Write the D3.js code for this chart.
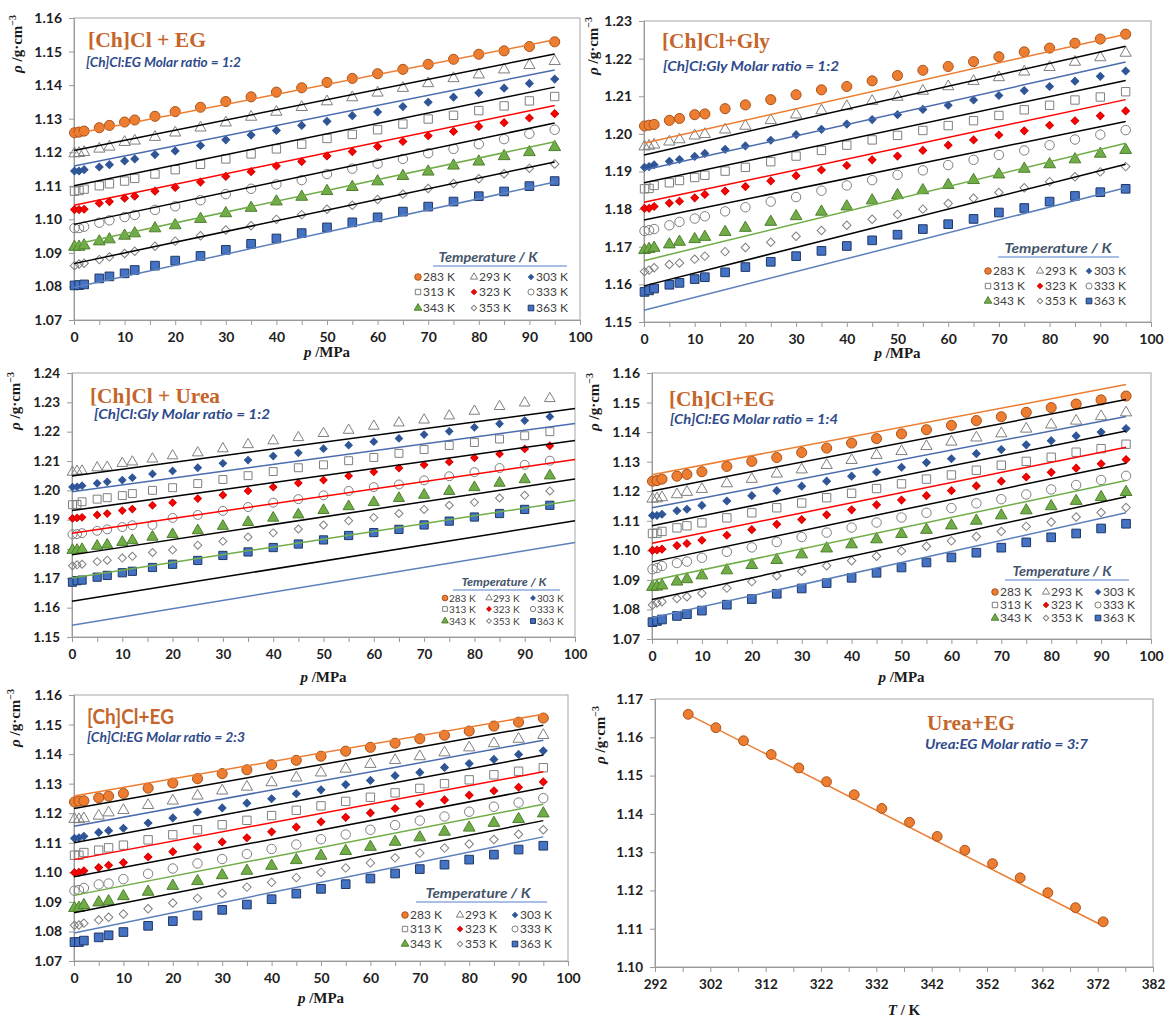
<!DOCTYPE html>
<html>
<head>
<meta charset="utf-8">
<title>Density of deep eutectic solvents vs pressure</title>
<script src="https://d3js.org/d3.v7.min.js"></script>
<style>
  body { margin: 0; background: #fff; }
  .axis .domain { stroke: #9a9a9a; }
  .axis .tick line { stroke: #9a9a9a; }
  .axis .tick text { font-family: Lato, "Open Sans", sans-serif; font-weight: bold; fill: #1e1e1e; }
  .frame { fill: none; stroke: #a6a6a6; stroke-width: 1px; }
  .ptitle { font-family: "Liberation Serif", "Times New Roman", serif; font-weight: bold; fill: #c5652a; }
  .psub { font-family: Lato, "Open Sans", sans-serif; font-weight: bold; font-style: italic; fill: #2f4b8b; }
  .atitle { font-family: "Liberation Serif", "Times New Roman", serif; font-weight: bold; fill: #1a1a1a; }
  .leghead { font-family: Lato, "Open Sans", sans-serif; font-weight: bold; font-style: italic; fill: #44546a; }
  .legtext { font-family: Lato, "Open Sans", sans-serif; fill: #404040; }
</style>
</head>
<body>
<svg width="1165" height="1021"></svg>
<script>
// ---- data ----
const pressuresA = [0.1,1,2,5,7,10,12,16,20,25,30,35,40,45,50,55,60,65,70,75,80,85,90,95];
const pressuresB = [0.1,1,2,5,7,10,15,20,25,30,35,40,45,50,55,60,65,70,75,80,85,90,95];
const tempLabels = ["283 K","293 K","303 K","313 K","323 K","333 K","343 K","353 K","363 K"];

const pressureTicks = [0,5,10,15,20,25,30,35,40,45,50,55,60,65,70,75,80,85,90,95,100];
const pressureLabels = [0,10,20,30,40,50,60,70,80,90,100];
const rhoTicksEG = [1.07,1.08,1.09,1.10,1.11,1.12,1.13,1.14,1.15,1.16];
const rhoTicksGly = [1.15,1.16,1.17,1.18,1.19,1.20,1.21,1.22,1.23];
const rhoTicksUrea = [1.15,1.16,1.17,1.18,1.19,1.20,1.21,1.22,1.23,1.24];
const rhoTicksUreaEG = [1.10,1.11,1.12,1.13,1.14,1.15,1.16,1.17];
const tempTicks = [292,297,302,307,312,317,322,327,332,337,342,347,352,357,362,367,372,377,382];
const tempTickLabels = [292,302,312,322,332,342,352,362,372,382];

// [Ch]Cl + EG 1:2 (one row per temperature, pressuresA)
const rhoEG12 = [
  [1.1258,1.1260,1.1263,1.1273,1.1280,1.1290,1.1296,1.1307,1.1321,1.1334,1.1351,1.1365,1.1379,1.1392,1.1408,1.1420,1.1434,1.1447,1.1462,1.1477,1.1492,1.1502,1.1515,1.1529],
  [1.1196,1.1197,1.1200,1.1210,1.1216,1.1230,1.1234,1.1245,1.1258,1.1273,1.1288,1.1305,1.1320,1.1334,1.1351,1.1363,1.1377,1.1391,1.1405,1.1420,1.1431,1.1446,1.1459,1.1471],
  [1.1144,1.1144,1.1148,1.1156,1.1163,1.1174,1.1180,1.1193,1.1204,1.1220,1.1237,1.1251,1.1265,1.1280,1.1292,1.1309,1.1320,1.1336,1.1349,1.1364,1.1377,1.1391,1.1405,1.1418],
  [1.1084,1.1086,1.1090,1.1100,1.1106,1.1114,1.1122,1.1135,1.1148,1.1164,1.1180,1.1195,1.1210,1.1224,1.1241,1.1253,1.1267,1.1284,1.1299,1.1310,1.1324,1.1338,1.1353,1.1366],
  [1.1029,1.1029,1.1030,1.1048,1.1053,1.1063,1.1069,1.1084,1.1095,1.1111,1.1128,1.1142,1.1159,1.1172,1.1189,1.1202,1.1217,1.1232,1.1249,1.1262,1.1277,1.1288,1.1302,1.1315],
  [1.0974,1.0974,1.0978,1.0990,1.0997,1.1007,1.1013,1.1028,1.1039,1.1057,1.1075,1.1091,1.1104,1.1117,1.1135,1.1151,1.1166,1.1180,1.1197,1.1210,1.1224,1.1239,1.1255,1.1267],
  [1.0918,1.0918,1.0922,1.0934,1.0940,1.0951,1.0958,1.0973,1.0982,1.1001,1.1018,1.1034,1.1053,1.1067,1.1084,1.1096,1.1113,1.1129,1.1142,1.1160,1.1172,1.1188,1.1200,1.1215],
  [1.0862,1.0867,1.0869,1.0880,1.0888,1.0898,1.0905,1.0920,1.0935,1.0951,1.0968,1.0981,1.1000,1.1014,1.1030,1.1042,1.1059,1.1075,1.1092,1.1107,1.1121,1.1136,1.1152,1.1165],
  [1.0803,1.0804,1.0806,1.0824,1.0830,1.0839,1.0849,1.0862,1.0877,1.0891,1.0909,1.0927,1.0943,1.0959,1.0976,1.0991,1.1006,1.1023,1.1038,1.1053,1.1069,1.1083,1.1099,1.1114]
];
// fitted line ends [rho at p=0, rho at last p]
const fitEG12 = [[1.1254,1.1535],[1.1205,1.1493],[1.1159,1.1445],[1.1100,1.1394],[1.1042,1.1339],[1.0985,1.1287],[1.0925,1.1231],[1.0868,1.1171],[1.0797,1.1111]];

// [Ch]Cl + Gly 1:2 (pressuresA)
const rhoGly12 = [
  [1.2021,1.2023,1.2025,1.2036,1.2041,1.2051,1.2053,1.2067,1.2077,1.2091,1.2104,1.2117,1.2126,1.2141,1.2155,1.2169,1.2179,1.2192,1.2205,1.2218,1.2228,1.2241,1.2252,1.2265],
  [1.1966,1.1968,1.1971,1.1979,1.1985,1.1995,1.1999,1.2011,1.2021,1.2036,1.2051,1.2062,1.2073,1.2087,1.2098,1.2114,1.2126,1.2140,1.2150,1.2165,1.2177,1.2191,1.2203,1.2215],
  [1.1911,1.1913,1.1918,1.1927,1.1932,1.1940,1.1948,1.1959,1.1968,1.1983,1.1998,1.2012,1.2026,1.2038,1.2051,1.2065,1.2076,1.2090,1.2102,1.2115,1.2126,1.2140,1.2153,1.2167],
  [1.1854,1.1855,1.1863,1.1870,1.1876,1.1884,1.1890,1.1901,1.1911,1.1926,1.1941,1.1956,1.1970,1.1984,1.1996,1.2009,1.2022,1.2035,1.2049,1.2064,1.2076,1.2090,1.2098,1.2112],
  [1.1802,1.1802,1.1807,1.1816,1.1821,1.1830,1.1839,1.1848,1.1860,1.1875,1.1889,1.1904,1.1916,1.1931,1.1941,1.1956,1.1970,1.1984,1.1997,1.2008,1.2023,1.2035,1.2048,1.2061],
  [1.1742,1.1744,1.1747,1.1757,1.1766,1.1775,1.1781,1.1794,1.1805,1.1820,1.1832,1.1849,1.1863,1.1877,1.1891,1.1903,1.1917,1.1931,1.1944,1.1956,1.1970,1.1985,1.1998,1.2010],
  [1.1691,1.1694,1.1697,1.1706,1.1713,1.1720,1.1726,1.1739,1.1750,1.1766,1.1781,1.1793,1.1807,1.1823,1.1837,1.1850,1.1864,1.1877,1.1892,1.1907,1.1919,1.1932,1.1947,1.1957],
  [1.1634,1.1638,1.1644,1.1653,1.1657,1.1667,1.1675,1.1687,1.1698,1.1712,1.1728,1.1743,1.1757,1.1773,1.1786,1.1800,1.1815,1.1829,1.1844,1.1857,1.1873,1.1886,1.1899,1.1913],
  [1.1580,1.1584,1.1589,1.1599,1.1604,1.1614,1.1619,1.1632,1.1646,1.1660,1.1675,1.1689,1.1702,1.1717,1.1732,1.1747,1.1760,1.1774,1.1791,1.1803,1.1820,1.1835,1.1845,1.1854]
];
const fitGly12 = [[1.1975,1.2265],[1.1944,1.2233],[1.1904,1.2191],[1.1870,1.2142],[1.1818,1.2091],[1.1771,1.2033],[1.1663,1.1975],[1.1596,1.1919],[1.1531,1.1857]];

// [Ch]Cl + Urea (pressuresA, no 283 K data)
const rhoUrea = [
  null,
  [1.2062,1.2065,1.2066,1.2077,1.2079,1.2092,1.2097,1.2107,1.2118,1.2128,1.2142,1.2156,1.2169,1.2180,1.2194,1.2205,1.2219,1.2230,1.2240,1.2254,1.2270,1.2286,1.2298,1.2313],
  [1.2011,1.2012,1.2016,1.2024,1.2029,1.2035,1.2043,1.2056,1.2066,1.2077,1.2092,1.2103,1.2117,1.2128,1.2142,1.2154,1.2166,1.2177,1.2190,1.2201,1.2215,1.2227,1.2238,1.2251],
  [1.1951,1.1952,1.1961,1.1970,1.1975,1.1982,1.1989,1.2000,1.2009,1.2023,1.2037,1.2050,1.2064,1.2077,1.2087,1.2101,1.2112,1.2126,1.2139,1.2153,1.2163,1.2175,1.2186,1.2200],
  [1.1904,1.1906,1.1908,1.1916,1.1921,1.1931,1.1936,1.1949,1.1958,1.1972,1.1984,1.1998,1.2011,1.2025,1.2035,1.2049,1.2063,1.2076,1.2087,1.2097,1.2111,1.2124,1.2141,1.2152],
  [1.1850,1.1851,1.1854,1.1862,1.1867,1.1875,1.1881,1.1882,1.1906,1.1916,1.1930,1.1943,1.1958,1.1970,1.1983,1.1998,1.2011,1.2020,1.2034,1.2048,1.2062,1.2076,1.2087,1.2101],
  [1.1796,1.1796,1.1799,1.1810,1.1814,1.1823,1.1829,1.1841,1.1850,1.1863,1.1878,1.1891,1.1906,1.1917,1.1932,1.1945,1.1959,1.1973,1.1984,1.1997,1.2010,1.2025,1.2037,1.2050],
  [1.1743,1.1746,1.1748,1.1757,1.1762,1.1769,1.1775,1.1788,1.1797,1.1813,1.1826,1.1841,1.1855,1.1868,1.1882,1.1896,1.1907,1.1921,1.1935,1.1949,1.1959,1.1974,1.1983,1.1998],
  [1.1687,1.1692,1.1694,1.1704,1.1710,1.1719,1.1724,1.1737,1.1748,1.1761,1.1778,1.1790,1.1805,1.1817,1.1831,1.1846,1.1856,1.1867,1.1882,1.1895,1.1909,1.1921,1.1935,1.1949]
];
const fitUrea = [null,[1.2049,1.2279],[1.1995,1.2228],[1.1931,1.2170],[1.1854,1.2105],[1.1780,1.2039],[1.1701,1.1966],[1.1622,1.1896],[1.1540,1.1822]];

// [Ch]Cl + EG 1:4 (pressuresB)
const rhoEG14 = [
  [1.1234,1.1236,1.1241,1.1251,1.1257,1.1266,1.1284,1.1301,1.1314,1.1331,1.1346,1.1363,1.1378,1.1394,1.1408,1.1423,1.1439,1.1452,1.1467,1.1483,1.1495,1.1509,1.1522],
  [1.1174,1.1175,1.1179,1.1189,1.1197,1.1207,1.1226,1.1241,1.1259,1.1273,1.1288,1.1305,1.1322,1.1335,1.1352,1.1367,1.1381,1.1395,1.1411,1.1425,1.1438,1.1453,1.1466],
  [1.1118,1.1118,1.1122,1.1134,1.1139,1.1152,1.1167,1.1185,1.1202,1.1217,1.1234,1.1251,1.1265,1.1281,1.1297,1.1310,1.1327,1.1341,1.1357,1.1371,1.1387,1.1400,1.1412],
  [1.1057,1.1058,1.1064,1.1076,1.1083,1.1093,1.1110,1.1127,1.1144,1.1160,1.1178,1.1193,1.1209,1.1225,1.1241,1.1255,1.1271,1.1288,1.1301,1.1315,1.1332,1.1344,1.1359],
  [1.1000,1.1001,1.1004,1.1016,1.1023,1.1034,1.1051,1.1070,1.1088,1.1104,1.1120,1.1137,1.1154,1.1170,1.1185,1.1202,1.1218,1.1234,1.1248,1.1264,1.1278,1.1293,1.1307],
  [1.0936,1.0940,1.0947,1.0957,1.0962,1.0975,1.0995,1.1010,1.1028,1.1045,1.1060,1.1077,1.1094,1.1111,1.1127,1.1143,1.1159,1.1173,1.1189,1.1206,1.1221,1.1238,1.1252],
  [1.0876,1.0877,1.0881,1.0894,1.0902,1.0915,1.0932,1.0950,1.0967,1.0986,1.1006,1.1020,1.1037,1.1055,1.1069,1.1084,1.1100,1.1118,1.1135,1.1149,1.1167,1.1180,1.1197],
  [1.0815,1.0822,1.0826,1.0837,1.0843,1.0855,1.0872,1.0894,1.0914,1.0929,1.0948,1.0965,1.0980,1.0998,1.1014,1.1032,1.1047,1.1064,1.1081,1.1096,1.1113,1.1128,1.1145],
  [1.0757,1.0761,1.0766,1.0778,1.0784,1.0796,1.0816,1.0835,1.0853,1.0871,1.0889,1.0907,1.0924,1.0942,1.0959,1.0976,1.0992,1.1009,1.1027,1.1044,1.1057,1.1074,1.1090]
];
const fitEG14 = [[1.1256,1.1561],[1.1201,1.1510],[1.1144,1.1453],[1.1083,1.1404],[1.1024,1.1349],[1.0961,1.1295],[1.0898,1.1236],[1.0834,1.1181],[1.0772,1.1127]];

// [Ch]Cl + EG 2:3 (pressuresB)
const rhoEG23 = [
  [1.1238,1.1241,1.1242,1.1252,1.1258,1.1267,1.1285,1.1302,1.1317,1.1334,1.1347,1.1364,1.1379,1.1393,1.1410,1.1423,1.1437,1.1452,1.1464,1.1478,1.1495,1.1508,1.1522],
  [1.1180,1.1179,1.1182,1.1191,1.1202,1.1210,1.1227,1.1242,1.1259,1.1276,1.1289,1.1304,1.1320,1.1337,1.1350,1.1366,1.1379,1.1392,1.1405,1.1422,1.1436,1.1451,1.1464],
  [1.1115,1.1117,1.1122,1.1135,1.1141,1.1149,1.1167,1.1184,1.1204,1.1218,1.1234,1.1249,1.1266,1.1279,1.1297,1.1311,1.1327,1.1338,1.1355,1.1368,1.1382,1.1399,1.1411],
  [1.1058,1.1058,1.1067,1.1075,1.1083,1.1092,1.1110,1.1127,1.1144,1.1161,1.1176,1.1192,1.1210,1.1225,1.1240,1.1254,1.1269,1.1284,1.1300,1.1313,1.1330,1.1342,1.1354],
  [1.0999,1.1000,1.1005,1.1016,1.1024,1.1033,1.1052,1.1070,1.1086,1.1103,1.1117,1.1137,1.1153,1.1171,1.1186,1.1201,1.1216,1.1232,1.1245,1.1261,1.1276,1.1288,1.1306],
  [1.0938,1.0940,1.0947,1.0959,1.0962,1.0977,1.0995,1.1013,1.1030,1.1045,1.1062,1.1079,1.1094,1.1112,1.1128,1.1144,1.1160,1.1175,1.1189,1.1205,1.1222,1.1236,1.1251],
  [1.0879,1.0880,1.0889,1.0898,1.0902,1.0919,1.0934,1.0954,1.0970,1.0990,1.1005,1.1022,1.1041,1.1056,1.1072,1.1086,1.1103,1.1118,1.1137,1.1151,1.1167,1.1180,1.1199],
  [1.0821,1.0822,1.0828,1.0839,1.0848,1.0859,1.0877,1.0896,1.0912,1.0929,1.0950,1.0966,1.0982,1.1000,1.1015,1.1032,1.1049,1.1065,1.1082,1.1096,1.1111,1.1129,1.1144],
  [1.0764,1.0764,1.0769,1.0780,1.0787,1.0798,1.0819,1.0835,1.0854,1.0873,1.0891,1.0909,1.0928,1.0944,1.0960,1.0979,1.0996,1.1011,1.1026,1.1043,1.1060,1.1077,1.1090]
];
const fitEG23 = [[1.1258,1.1535],[1.1216,1.1498],[1.1156,1.1447],[1.1100,1.1397],[1.1043,1.1340],[1.0985,1.1286],[1.0922,1.1230],[1.0863,1.1175],[1.0795,1.1120]];

// Urea + EG 3:7, density vs temperature
const tempsUreaEG = [298,303,308,313,318,323,328,333,338,343,348,353,358,363,368,373];
const rhoUreaEG = [1.1660,1.1625,1.1591,1.1555,1.1520,1.1484,1.1450,1.1414,1.1378,1.1341,1.1305,1.1270,1.1233,1.1194,1.1155,1.1118];
const fitUreaEG = [1.1660,1.1107];

// ---- styles ----
const markerStyles = [
  {type: d3.symbolCircle,   size: 80, fill: "#ed7d31", stroke: "#a9531a", rot: 0},
  {type: d3.symbolTriangle, size: 55, fill: "none",    stroke: "#7f7f7f", rot: 0},
  {type: d3.symbolSquare,   size: 30, fill: "#2f5597", stroke: "#2f5597", rot: 45},
  {type: d3.symbolSquare,   size: 70, fill: "none",    stroke: "#7f7f7f", rot: 0},
  {type: d3.symbolSquare,   size: 30, fill: "#ff0000", stroke: "#d00000", rot: 45},
  {type: d3.symbolCircle,   size: 70, fill: "none",    stroke: "#7f7f7f", rot: 0},
  {type: d3.symbolTriangle, size: 60, fill: "#70ad47", stroke: "#4f7f30", rot: 0},
  {type: d3.symbolSquare,   size: 36, fill: "none",    stroke: "#7f7f7f", rot: 45},
  {type: d3.symbolSquare,   size: 75, fill: "#4472c4", stroke: "#203864", rot: 0}
];
const fitColors = ["#ed7d31","#000000","#4a6cae","#000000","#ff0000","#000000","#70ad47","#000000","#5b80bb"];

const svg = d3.select("svg");

function drawMarker(sel, i, x, y, scale) {
  const st = markerStyles[i];
  sel.append("path")
    .attr("d", d3.symbol(st.type, st.size * scale)())
    .attr("transform", `translate(${x},${y}) rotate(${st.rot})`)
    .attr("fill", st.fill)
    .attr("stroke", st.stroke)
    .attr("stroke-width", 1);
}

// text squeezed/stretched to the width measured on the figure
function fitText(g, cls, x, y, size, width, str, family) {
  return g.append("text").attr("class", cls)
    .attr("x", x).attr("y", y)
    .style("font-size", size + "px")
    .style("font-family", family || null)
    .attr("textLength", width).attr("lengthAdjust", "spacingAndGlyphs")
    .text(str);
}

function yTitle(g, x, y) {
  const t = g.append("text").attr("class", "atitle")
    .attr("transform", `translate(${x},${y}) rotate(-90)`)
    .attr("text-anchor", "middle").style("font-size", "15px");
  t.append("tspan").style("font-style", "italic").text("ρ");
  t.append("tspan").text(" /g·cm");
  t.append("tspan").attr("dy", -6).style("font-size", "10px").text("−3");
}

function xTitle(g, x, y, sym, unit) {
  const t = g.append("text").attr("class", "atitle")
    .attr("x", x).attr("y", y).attr("text-anchor", "middle").style("font-size", "15px");
  t.append("tspan").style("font-style", "italic").text(sym);
  t.append("tspan").text(unit);
}

function legend(g, L) {
  fitText(g, "leghead", L.cx - L.hw / 2, L.hy, L.hfs, L.hw, "Temperature / K");
  g.append("line").attr("x1", L.ux[0]).attr("x2", L.ux[1])
    .attr("y1", L.hy + 4).attr("y2", L.hy + 4)
    .attr("stroke", "#8eaadb").attr("stroke-width", 1.5);
  tempLabels.forEach((t, i) => {
    const mx = L.cols[i % 3], my = L.rows[Math.floor(i / 3)];
    drawMarker(g, i, mx, my, L.ms);
    g.append("text").attr("class", "legtext")
      .attr("x", mx + L.gap).attr("y", my).attr("dy", "0.36em")
      .style("font-size", L.fs + "px").text(t);
  });
}

function pressurePanel(c) {
  const g = svg.append("g");
  const x = d3.scaleLinear().domain([0, 100]).range([c.left, c.right]);
  const y = d3.scaleLinear().domain([c.yTicks[0], c.yTicks[c.yTicks.length - 1]]).range([c.bottom, c.top]);

  g.append("rect").attr("class", "frame")
    .attr("x", c.left).attr("y", c.top)
    .attr("width", c.right - c.left).attr("height", c.bottom - c.top);

  g.append("g").attr("class", "axis")
    .attr("transform", `translate(0,${c.bottom})`)
    .call(d3.axisBottom(x).tickValues(pressureTicks).tickSize(5).tickPadding(7)
      .tickFormat(d => pressureLabels.includes(d) ? d : ""))
    .selectAll("text").style("font-size", c.tfs + "px");
  g.append("g").attr("class", "axis")
    .attr("transform", `translate(${c.left},0)`)
    .call(d3.axisLeft(y).tickValues(c.yTicks).tickSize(5).tickPadding(7).tickFormat(d3.format(".2f")))
    .selectAll("text").style("font-size", c.tfs + "px");

  // measured points
  c.rho.forEach((vals, i) => {
    if (!vals) return;
    vals.forEach((v, j) => drawMarker(g, i, x(c.press[j]), y(v), c.ms));
  });
  // fitted lines
  c.fit.forEach((f, i) => {
    if (!f) return;
    g.append("line")
      .attr("x1", x(0)).attr("y1", y(f[0]))
      .attr("x2", x(c.pEnd)).attr("y2", y(f[1]))
      .attr("stroke", fitColors[i]).attr("stroke-width", 1.5);
  });

  fitText(g, "ptitle", c.title[1], c.title[2], c.title[3], c.title[4], c.title[0], c.title[5]);
  fitText(g, "psub", c.sub[1], c.sub[2], c.sub[3], c.sub[4], c.sub[0]);

  yTitle(g, c.yt[0], c.yt[1]);
  xTitle(g, (c.left + c.right) / 2, c.xt, "p", " /MPa");
  legend(g, c.legend);
}

pressurePanel({
  left: 74, right: 580, top: 18, bottom: 320, yTicks: rhoTicksEG, tfs: 14, ms: 1,
  press: pressuresA, rho: rhoEG12, fit: fitEG12, pEnd: 95,
  title: ["[Ch]Cl + EG", 88, 47, 22, 118], sub: ["[Ch]Cl:EG Molar ratio = 1:2", 86, 67, 13, 155],
  yt: [22, 44], xt: 357,
  legend: {cx: 488, hy: 262, hfs: 13, hw: 99, ux: [433, 567], rows: [277, 292, 308], cols: [418, 474, 531], gap: 5, fs: 12, ms: 0.42}
});
pressurePanel({
  left: 644, right: 1151, top: 21, bottom: 322, yTicks: rhoTicksGly, tfs: 14, ms: 1,
  press: pressuresA, rho: rhoGly12, fit: fitGly12, pEnd: 95,
  title: ["[Ch]Cl+Gly", 662, 48, 22, 108], sub: ["[Ch]Cl:Gly Molar ratio = 1:2", 663, 71, 13.5, 176],
  yt: [598, 46], xt: 358,
  legend: {cx: 1058, hy: 253, hfs: 13, hw: 107, ux: [998, 1119], rows: [271, 286, 301], cols: [988, 1040, 1089], gap: 5, fs: 12, ms: 0.42}
});
pressurePanel({
  left: 72, right: 575, top: 373, bottom: 637, yTicks: rhoTicksUrea, tfs: 13.5, ms: 0.9,
  press: pressuresA, rho: rhoUrea, fit: fitUrea, pEnd: 100,
  title: ["[Ch]Cl + Urea", 90, 403, 22, 130], sub: ["[Ch]Cl:Gly Molar ratio = 1:2", 94, 419, 13, 176],
  yt: [20, 401], xt: 682,
  legend: {cx: 504, hy: 586, hfs: 10.5, hw: 85, ux: [453, 560], rows: [598, 609, 621], cols: [445, 489, 533], gap: 4, fs: 10, ms: 0.32}
});
pressurePanel({
  left: 652, right: 1151, top: 373, bottom: 639, yTicks: rhoTicksEG, tfs: 14, ms: 1,
  press: pressuresB, rho: rhoEG14, fit: fitEG14, pEnd: 95,
  title: ["[Ch]Cl+EG", 669, 406, 22, 106], sub: ["[Ch]Cl:EG Molar ratio = 1:4", 670, 424, 13, 168],
  yt: [599, 402], xt: 682,
  legend: {cx: 1062, hy: 576, hfs: 12.5, hw: 99, ux: [1005, 1129], rows: [592, 605, 618], cols: [995, 1046, 1098], gap: 5, fs: 12, ms: 0.42}
});
pressurePanel({
  left: 74, right: 568, top: 695, bottom: 961, yTicks: rhoTicksEG, tfs: 14, ms: 1,
  press: pressuresB, rho: rhoEG23, fit: fitEG23, pEnd: 95,
  title: ["[Ch]Cl+EG", 87, 724, 20, 87, "Lato, 'Open Sans', sans-serif"], sub: ["[Ch]Cl:EG Molar ratio = 2:3", 87, 742, 13, 158],
  yt: [20, 718], xt: 1003,
  legend: {cx: 478, hy: 898, hfs: 13, hw: 105, ux: [416, 547], rows: [915, 929, 944], cols: [405, 460, 515], gap: 5, fs: 12, ms: 0.42}
});

// Urea + EG panel (density vs temperature)
(function () {
  const c = {left: 655, right: 1153, top: 699, bottom: 967};
  const g = svg.append("g");
  const x = d3.scaleLinear().domain([292, 382]).range([c.left, c.right]);
  const y = d3.scaleLinear().domain([1.10, 1.17]).range([c.bottom, c.top]);

  g.append("rect").attr("class", "frame")
    .attr("x", c.left).attr("y", c.top)
    .attr("width", c.right - c.left).attr("height", c.bottom - c.top);
  g.append("g").attr("class", "axis")
    .attr("transform", `translate(0,${c.bottom})`)
    .call(d3.axisBottom(x).tickValues(tempTicks).tickSize(5).tickPadding(7)
      .tickFormat(d => tempTickLabels.includes(d) ? d : ""))
    .selectAll("text").style("font-size", "13.5px");
  g.append("g").attr("class", "axis")
    .attr("transform", `translate(${c.left},0)`)
    .call(d3.axisLeft(y).tickValues(rhoTicksUreaEG).tickSize(5).tickPadding(7).tickFormat(d3.format(".2f")))
    .selectAll("text").style("font-size", "13.5px");

  g.append("line")
    .attr("x1", x(tempsUreaEG[0])).attr("y1", y(fitUreaEG[0]))
    .attr("x2", x(tempsUreaEG[tempsUreaEG.length - 1])).attr("y2", y(fitUreaEG[1]))
    .attr("stroke", "#ed7d31").attr("stroke-width", 1.5);
  rhoUreaEG.forEach((v, j) => drawMarker(g, 0, x(tempsUreaEG[j]), y(v), 0.95));

  fitText(g, "ptitle", 927, 730, 22, 88, "Urea+EG");
  fitText(g, "psub", 925, 749, 13, 163, "Urea:EG Molar ratio = 3:7");

  yTitle(g, 605, 735);
  xTitle(g, (c.left + c.right) / 2, 1015, "T", " / K");
})();
</script>
</body>
</html>
